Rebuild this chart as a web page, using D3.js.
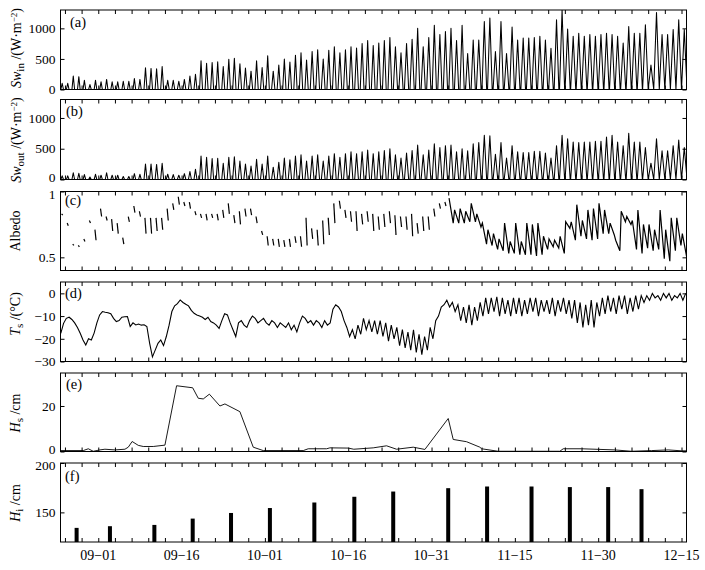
<!DOCTYPE html>
<html><head><meta charset="utf-8">
<script src="https://cdn.jsdelivr.net/npm/d3@7"></script>
<style>
body{margin:0;background:#fff}
svg{display:block}
text{font-family:"Liberation Serif","Times New Roman",serif;fill:#000}
</style>
</head><body>
<svg id="c" width="705" height="570"></svg>
<script>
// ---------- DATA ----------
// x axis: day number, 0 = 09-01
const xTickDays   = [0, 15, 30, 45, 60, 75, 90, 105];
const xTickLabels = ["09−01","09−16","10−01","10−16","10−31","11−15","11−30","12−15"];

// (a) daily peak incoming shortwave, days -7 .. 105
const swInDay0 = -7;
const swInPeak = [100,100,220,210,150,80,150,125,165,125,125,135,135,180,165,355,345,340,375,150,150,135,165,220,250,470,430,440,455,375,495,510,
 420,350,300,470,360,550,300,400,500,450,560,600,480,620,650,500,640,700,600,650,700,680,750,800,720,760,800,850,700,600,750,820,1000,700,850,1050,900,950,1000,800,1050,
 590,810,810,1110,1170,620,1110,590,1020,810,840,840,850,870,810,675,1140,1300,990,870,920,870,900,870,900,920,900,870,760,1030,920,920,1060,400,1260,900,900,980,1140,980];
// (b) daily peak outgoing shortwave, days -7 .. 105
const swOutPeak = [60,60,110,100,80,40,85,70,110,70,70,50,50,95,85,250,250,245,265,85,80,70,95,130,165,380,360,340,345,265,360,370,
 300,250,220,330,250,380,200,280,350,320,380,400,300,380,400,300,380,420,360,420,450,420,450,480,420,450,470,500,400,350,430,470,560,400,480,580,520,550,560,450,500,
 465,580,600,720,710,410,600,350,550,450,440,440,460,460,430,350,550,720,660,610,600,610,610,620,620,690,720,610,550,750,610,610,520,265,660,465,465,550,640,520];
// daylight half-width (days) by period start day
const daylightStart = [-7, 8, 23, 38, 53, 68, 83, 98];
const daylightHalf  = [0.24,0.27,0.3,0.34,0.38,0.42,0.46,0.5];

// (c) albedo: daily high / low, days -7 .. 105
const albDay0 = -7;
const albHi = [0.83,0.76,0.60,0.59,0.64,0.78,0.71,0.87,0.81,0.79,0.76,0.65,0.81,0.89,0.85,0.80,0.80,0.80,0.80,0.87,0.91,0.96,0.92,0.92,0.85,0.83,0.83,0.83,0.83,0.86,0.91,0.82,
 0.85,0.87,0.87,0.81,0.70,0.66,0.64,0.64,0.63,0.64,0.66,0.66,0.80,0.72,0.71,0.78,0.80,0.91,0.93,0.86,0.85,0.85,0.83,0.85,0.83,
 0.81,0.83,0.85,0.82,0.81,0.81,0.83,0.76,0.81,0.81,0.87,0.91,0.92,0.95,0.86,0.87,0.85,0.91,0.83,0.76,0.71,0.68,0.64,0.76,0.62,0.76,0.62,0.76,0.75,0.76,0.66,0.64,0.63,0.66,
 0.77,0.77,0.90,0.78,0.86,0.87,0.91,0.86,0.76,0.63,0.85,0.81,0.78,0.86,0.75,0.75,0.71,0.86,0.71,0.80,0.80,0.68];
const albLo = [0.82,0.74,0.59,0.58,0.62,0.76,0.63,0.81,0.78,0.70,0.68,0.60,0.77,0.84,0.81,0.68,0.68,0.70,0.71,0.78,0.86,0.90,0.89,0.87,0.82,0.80,0.78,0.80,0.78,0.80,0.83,0.76,
 0.75,0.81,0.82,0.76,0.67,0.59,0.59,0.58,0.58,0.58,0.61,0.58,0.59,0.64,0.59,0.60,0.67,0.76,0.87,0.80,0.77,0.70,0.75,0.77,0.70,
 0.71,0.73,0.76,0.67,0.73,0.71,0.66,0.68,0.70,0.71,0.81,0.87,0.89,0.76,0.76,0.76,0.77,0.77,0.73,0.60,0.59,0.56,0.55,0.53,0.53,0.52,0.52,0.52,0.51,0.52,0.56,0.58,0.57,0.53,
 0.72,0.63,0.66,0.64,0.63,0.64,0.68,0.68,0.67,0.55,0.77,0.75,0.56,0.53,0.57,0.55,0.56,0.49,0.47,0.55,0.59,0.51];
const albConnectFrom = 63;

// (d) surface temperature, half-day samples from day -6.75
const tsDay0 = -6.75;
const tsVals = [-17.6,-13.2,-11,-10.5,-11.5,-13,-15,-17.6,-20.5,-22.7,-20,-20.5,-17.5,-13,-9.5,-8,-8.3,-8.5,-9,-11,-12.4,-12,-10.5,-10.3,-10.2,-14.6,-13,-13.9,-13.5,-14,-13.8,-14.6,-22,-28,-25,-22,-20.5,-23,-19,-14,-8,-5.5,-4.5,-2.9,-4,-4.8,-5.5,-7.5,-8.8,-9.5,-10,-10.5,-11.5,-10.5,-12.4,-13,-14,-15.4,-12,-9,-9.5,-13,-16,-19,-13,
 -12,-14,-15,-12,-10,-11,-13,-12,-11,-13,-14,-12,-13,-15,-13,-14,-15,-13,-16,-14,-17,-13,-10,-11,-13,-12,-14,-12,-13,-15,-12,-14,-13,-7,-5,-6,-8,-12,-15,-19,-16,-20,-14,-18,-11,-16,-12,-17,-12,-18,-12,-19,-13,-21,-14,-20,-15,-23,-16,-24,-17,-25,-16,-26,-18,-27,-19,-25,-15,-20,-12,-10,-6,-5,-3,-6,-4,-8,-5,-12,-6,
 -13,-5,-14,-6,-12,-4,-10,-2,-9,-2,-8,-1.5,-10,-2,-9,-3,-10,-2,-9,-2,-10,-3,-9,-2,-8,-2,-10,-3,-8,-3,-9,-2,-10,-3,-8,-2,-9,-3,-11,-3,-13,-4,-15,-5,-14,-3,-15,-4,-10,-2,-9,-1,-8,-2,-9,-1,-7,-1,-9,-2,-8,-1,-7,-1,-4,-1,-3,0,-2,-1,-3,0,-2,0,-3,-1,-2,0,-3,0];

// (e) snow depth
const hsDays = [-6.8,-2.7,-1.8,-0.9,0.3,1.2,3.0,4.8,5.4,6.1,7.2,8.1,9.9,12.0,14.1,17.0,18.0,18.9,20.0,21.9,22.8,25.5,27.9,29.7,36.9,37.8,41.1,41.7,45,46,49.5,51.9,53.7,56.7,58.8,63,63.9,66.3,68.7,69,72,83.1,83.7,87,93,96,99.6,102.6,105,105.9];
const hsVals = [0.4,0.4,1.2,0.1,0.7,1,0.7,1,1.9,4.4,2.7,2.2,2.2,2.8,28.9,28,23.4,23.1,25.2,20,20.9,17.5,1.9,0.4,0.4,1.2,1.2,1.6,1.5,1.0,1.6,2.5,1.0,1.9,0.9,14.5,5.3,4.3,1.9,1.2,0.1,0.1,1.2,1.2,0.7,0.1,0.4,0.7,0.3,0.3];

// (f) ice thickness
const hiDays = [-3.9,2.1,10.1,17,23.9,30.9,38.9,46.1,53.1,63,70,78,84.9,91.8,97.8];
const hiVals = [134.3,136,137.3,143.7,149.4,154.4,160,165.8,171.1,174.5,176.2,176.2,175.6,175.6,173.5];

// y ticks per panel
const yTicksA = [0,500,1000], yTicksB = [0,500,1000], yTicksC = [0.5,1], yTicksD = [0,-10,-20,-30], yTicksE = [0,20], yTicksF = [150,200];
const yTickFmtC = ["0.5","1"];
const panelLetters = ["(a)","(b)","(c)","(d)","(e)","(f)"];

// ---------- LAYOUT ----------
const svg = d3.select("#c");
const L = 60.5, R = 686.5;
const P = [[10,89.5],[99.5,179.5],[191.5,270.5],[282,361.5],[373,451.5],[463,542]];
const x = d3.scaleLinear().domain([-6.8,105.9]).range([L,R]);
const doms = [[0,1300],[0,1300],[0.4,1.0],[-30,5],[0,34.5],[120,200]];
const ys = P.map((p,i)=>d3.scaleLinear().domain(doms[i]).range([p[1],p[0]]));
const yTicks = [yTicksA,yTicksB,yTicksC,yTicksD,yTicksE,yTicksF];
const FS = 13.5;

const defs = svg.append("defs");
P.forEach((p,i)=>{
  defs.append("clipPath").attr("id","clip"+i).append("rect")
    .attr("x",L).attr("y",p[0]).attr("width",R-L).attr("height",p[1]-p[0]);
});

// ---------- MARKS ----------
const lineGen = (yS)=>d3.line().x(d=>x(d[0])).y(d=>yS(d[1]));

function halfFor(d){
  let h = daylightHalf[0];
  daylightStart.forEach((s,k)=>{ if(d>=s) h = daylightHalf[k]; });
  return h;
}
function swPoints(peaks){
  const pts=[];
  peaks.forEach((v,i)=>{
    const d = swInDay0 + i, h = halfFor(d);
    pts.push([d+0.5-h,0],[d+0.5,v],[d+0.5+h,0]);
  });
  return pts;
}
[[swInPeak,0],[swOutPeak,1]].forEach(([arr,i])=>{
  svg.append("path").attr("clip-path",`url(#clip${i})`)
    .attr("d", lineGen(ys[i])(swPoints(arr)))
    .attr("fill","none").attr("stroke","#000").attr("stroke-width",1.05).attr("stroke-linejoin","round");
});

// albedo
{
  const segs=[]; let cur=null;
  albHi.forEach((hi,i)=>{
    const d = albDay0 + i, lo = albLo[i];
    if(hi==null){cur=null;return;}
    if(d>=albConnectFrom){
      if(!cur){cur=[];segs.push(cur);}
      cur.push([d+0.15,hi],[d+0.9,lo]);
    } else {
      segs.push([[d+0.4,hi],[d+0.6,lo]]);
    }
  });
  svg.append("g").attr("clip-path","url(#clip2)").selectAll("path").data(segs).join("path")
    .attr("d", lineGen(ys[2])).attr("fill","none").attr("stroke","#000").attr("stroke-width",1.2);
}

// Ts
svg.append("path").attr("clip-path","url(#clip3)")
  .attr("d", lineGen(ys[3])(tsVals.map((v,i)=>[tsDay0+0.5*i, v])))
  .attr("fill","none").attr("stroke","#000").attr("stroke-width",1.1);

// Hs
svg.append("path").attr("clip-path","url(#clip4)")
  .attr("d", lineGen(ys[4])(hsDays.map((d,i)=>[d,hsVals[i]])))
  .attr("fill","none").attr("stroke","#000").attr("stroke-width",0.9);

// Hi bars
svg.append("g").selectAll("rect").data(hiDays).join("rect")
  .attr("x",d=>x(d)-2).attr("width",4)
  .attr("y",(d,i)=>ys[5](hiVals[i])).attr("height",(d,i)=>P[5][1]-ys[5](hiVals[i]))
  .attr("fill","#000");

// ---------- AXES ----------
const minor = d3.range(-6,106,3);
P.forEach((p,i)=>{
  const g = svg.append("g");
  const yS = ys[i];
  g.append("g").attr("transform",`translate(0,${p[0]})`)
    .call(d3.axisBottom(x).tickValues(minor).tickSize(4).tickFormat(""))
    .call(a=>a.select(".domain").remove());
  g.append("g").attr("transform",`translate(0,${p[1]})`)
    .call(d3.axisTop(x).tickValues(minor).tickSize(4).tickFormat(""))
    .call(a=>a.select(".domain").remove());
  const fmt = i===2 ? ((v,k)=>yTickFmtC[k]) : (v=>String(v).replace("-","−"));
  g.append("g").attr("transform",`translate(${L},0)`)
    .call(d3.axisRight(yS).tickValues(yTicks[i]).tickSize(4).tickFormat(""))
    .call(a=>a.select(".domain").remove());
  g.append("g").attr("transform",`translate(${R},0)`)
    .call(d3.axisLeft(yS).tickValues(yTicks[i]).tickSize(4).tickFormat(""))
    .call(a=>a.select(".domain").remove());
  g.selectAll(".tick line").attr("stroke","#000").attr("stroke-width",1);
  const top = doms[i][1], bot = doms[i][0];
  g.append("g").selectAll("text").data(yTicks[i]).join("text")
    .attr("x",L-5).attr("y",v=>yS(v))
    .attr("dy",v=> v===top ? "0.55em" : (v===bot && (i===1||i===4)) ? "0.15em" : "0.35em")
    .attr("text-anchor","end")
    .style("font-size",FS+"px").text((v,k)=>fmt(v,k));
  g.append("rect").attr("x",L).attr("y",p[0]).attr("width",R-L).attr("height",p[1]-p[0])
    .attr("fill","none").attr("stroke","#000").attr("stroke-width",1);
});

// panel letters
const letterDX = [70,66,65,65,66,65], letterDY = [17,16.5,13.5,15.5,16,18];
panelLetters.forEach((t,i)=>{
  svg.append("text").attr("x",letterDX[i]).attr("y",P[i][0]+letterDY[i])
    .style("font-size","14.5px").text(t);
});

// x tick labels
svg.append("g").selectAll("text").data(xTickDays).join("text")
  .attr("x",d=>x(d)).attr("y",559.5).attr("text-anchor","middle")
  .style("font-size","14px").text((d,i)=>xTickLabels[i]);

// y titles
function title(cx, cy, parts){
  const t = svg.append("text").attr("transform",`translate(${cx},${cy}) rotate(-90)`)
    .attr("text-anchor","middle").style("font-size","14px");
  parts.forEach(([s,style])=>{
    const ts = t.append("tspan").text(s);
    if(style==="i") ts.style("font-style","italic");
    if(style==="sub") ts.attr("baseline-shift","-30%").style("font-size","11px");
    if(style==="sup") ts.attr("baseline-shift","40%").style("font-size","9px");
  });
}
title(21, 48, [["Sw","i"],["in","sub"],[" /(W·m",""],["−2","sup"],[")",""]]);
title(21, 140, [["Sw","i"],["out","sub"],[" /(W·m",""],["−2","sup"],[")",""]]);
title(20, 231, [["Albedo",""]]);
title(20, 314, [["T","i"],["s","sub"],[" /(°C)",""]]);
title(20, 413, [["H","i"],["s","sub"],[" /cm",""]]);
title(20, 503, [["H","i"],["i","sub"],[" /cm",""]]);
</script>
</body></html>
